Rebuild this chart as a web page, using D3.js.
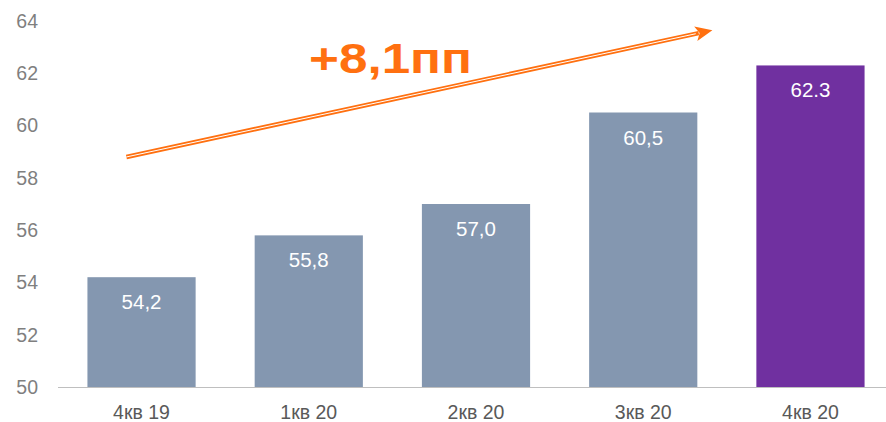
<!DOCTYPE html>
<html>
<head>
<meta charset="utf-8">
<script src="https://cdn.jsdelivr.net/npm/d3@7"></script>
<style>
  body { margin: 0; background: #fff; }
  text { font-family: "Liberation Sans", Arial, sans-serif; }
</style>
</head>
<body>
<script>
// chart data
var quarters = ["4кв 19", "1кв 20", "2кв 20", "3кв 20", "4кв 20"];
var shares = [54.2, 55.8, 57.0, 60.5, 62.3];
var shareLabels = ["54,2", "55,8", "57,0", "60,5", "62.3"];
var yTicks = [50, 52, 54, 56, 58, 60, 62, 64];
var growthLabel = "+8,1пп";
// arrow runs in data terms: from bar 0 at 58.8 to just left of bar 4 at 63.7
var arrowFrom = {idx: 0, value: 58.8};
var arrowTo = {idx: 4, value: 63.65};

var width = 886, height = 422;

var svg = d3.select("body").append("svg")
    .attr("width", width)
    .attr("height", height);

var x = d3.scaleBand()
    .domain(quarters)
    .range([58, 894])
    .paddingInner(0.353)
    .paddingOuter(0.176);

var y = d3.scaleLinear()
    .domain([50, 64])
    .range([387, 21]);

// y axis labels (no line)
svg.append("g")
    .selectAll("text")
    .data(yTicks)
    .enter()
    .append("text")
        .attr("x", 38)
        .attr("y", function(d){ return y(d); })
        .attr("dy", "0.35em")
        .attr("text-anchor", "end")
        .attr("font-size", 19.5)
        .attr("fill", "#7f7f7f")
        .text(function(d){ return d; });

// bars
svg.append("g")
    .selectAll("rect")
    .data(shares)
    .enter()
    .append("rect")
        .attr("x", function(d,i){ return x(quarters[i]); })
        .attr("y", function(d){ return y(d); })
        .attr("width", x.bandwidth())
        .attr("height", function(d){ return y(50) - y(d); })
        .attr("fill", function(d,i){ return i == shares.length - 1 ? "#7030a0" : "#8497b0"; });

// value labels
svg.append("g")
    .selectAll("text")
    .data(shares)
    .enter()
    .append("text")
        .attr("x", function(d,i){ return x(quarters[i]) + x.bandwidth()/2; })
        .attr("y", function(d){ return y(d) + 32; })
        .attr("text-anchor", "middle")
        .attr("font-size", 20.5)
        .attr("fill", "#ffffff")
        .text(function(d,i){ return shareLabels[i]; });

// x axis line
svg.append("line")
    .attr("x1", 58)
    .attr("x2", width)
    .attr("y1", y(50) + 0.5)
    .attr("y2", y(50) + 0.5)
    .attr("stroke", "#bfbfbf")
    .attr("stroke-width", 1);

// x labels
svg.append("g")
    .selectAll("text")
    .data(quarters)
    .enter()
    .append("text")
        .attr("x", function(d){ return x(d) + x.bandwidth()/2; })
        .attr("y", 419)
        .attr("text-anchor", "middle")
        .attr("font-size", 19.5)
        .attr("fill", "#595959")
        .text(function(d){ return d; });

// growth arrow (double line with white core)
var x0 = x(quarters[arrowFrom.idx]) + 39,
    y0 = y(arrowFrom.value),
    x1 = x(quarters[arrowTo.idx]) - 44,
    y1 = y(arrowTo.value);
var ang = Math.atan2(y1 - y0, x1 - x0);
var headLen = 17, headW = 7.5;
var bx = x1 - headLen * Math.cos(ang), by = y1 - headLen * Math.sin(ang);

svg.append("line")
    .attr("x1", x0).attr("y1", y0)
    .attr("x2", bx + 3 * Math.cos(ang)).attr("y2", by + 3 * Math.sin(ang))
    .attr("stroke", "#ff7010")
    .attr("stroke-width", 4.5);
svg.append("line")
    .attr("x1", x0).attr("y1", y0)
    .attr("x2", bx).attr("y2", by)
    .attr("stroke", "#ffffff")
    .attr("stroke-width", 1);

var px = -Math.sin(ang), py = Math.cos(ang);
svg.append("path")
    .attr("d", "M" + x1 + "," + y1 +
        "L" + (bx + px*headW) + "," + (by + py*headW) +
        "L" + (bx + 4*Math.cos(ang)) + "," + (by + 4*Math.sin(ang)) +
        "L" + (bx - px*headW) + "," + (by - py*headW) + "Z")
    .attr("fill", "#ff7010");

// growth label
svg.append("text")
    .attr("x", 309)
    .attr("y", 73)
    .attr("font-size", 42)
    .attr("font-weight", "bold")
    .attr("fill", "#ff7010")
    .attr("textLength", 163)
    .attr("lengthAdjust", "spacingAndGlyphs")
    .text(growthLabel);
</script>
</body>
</html>
